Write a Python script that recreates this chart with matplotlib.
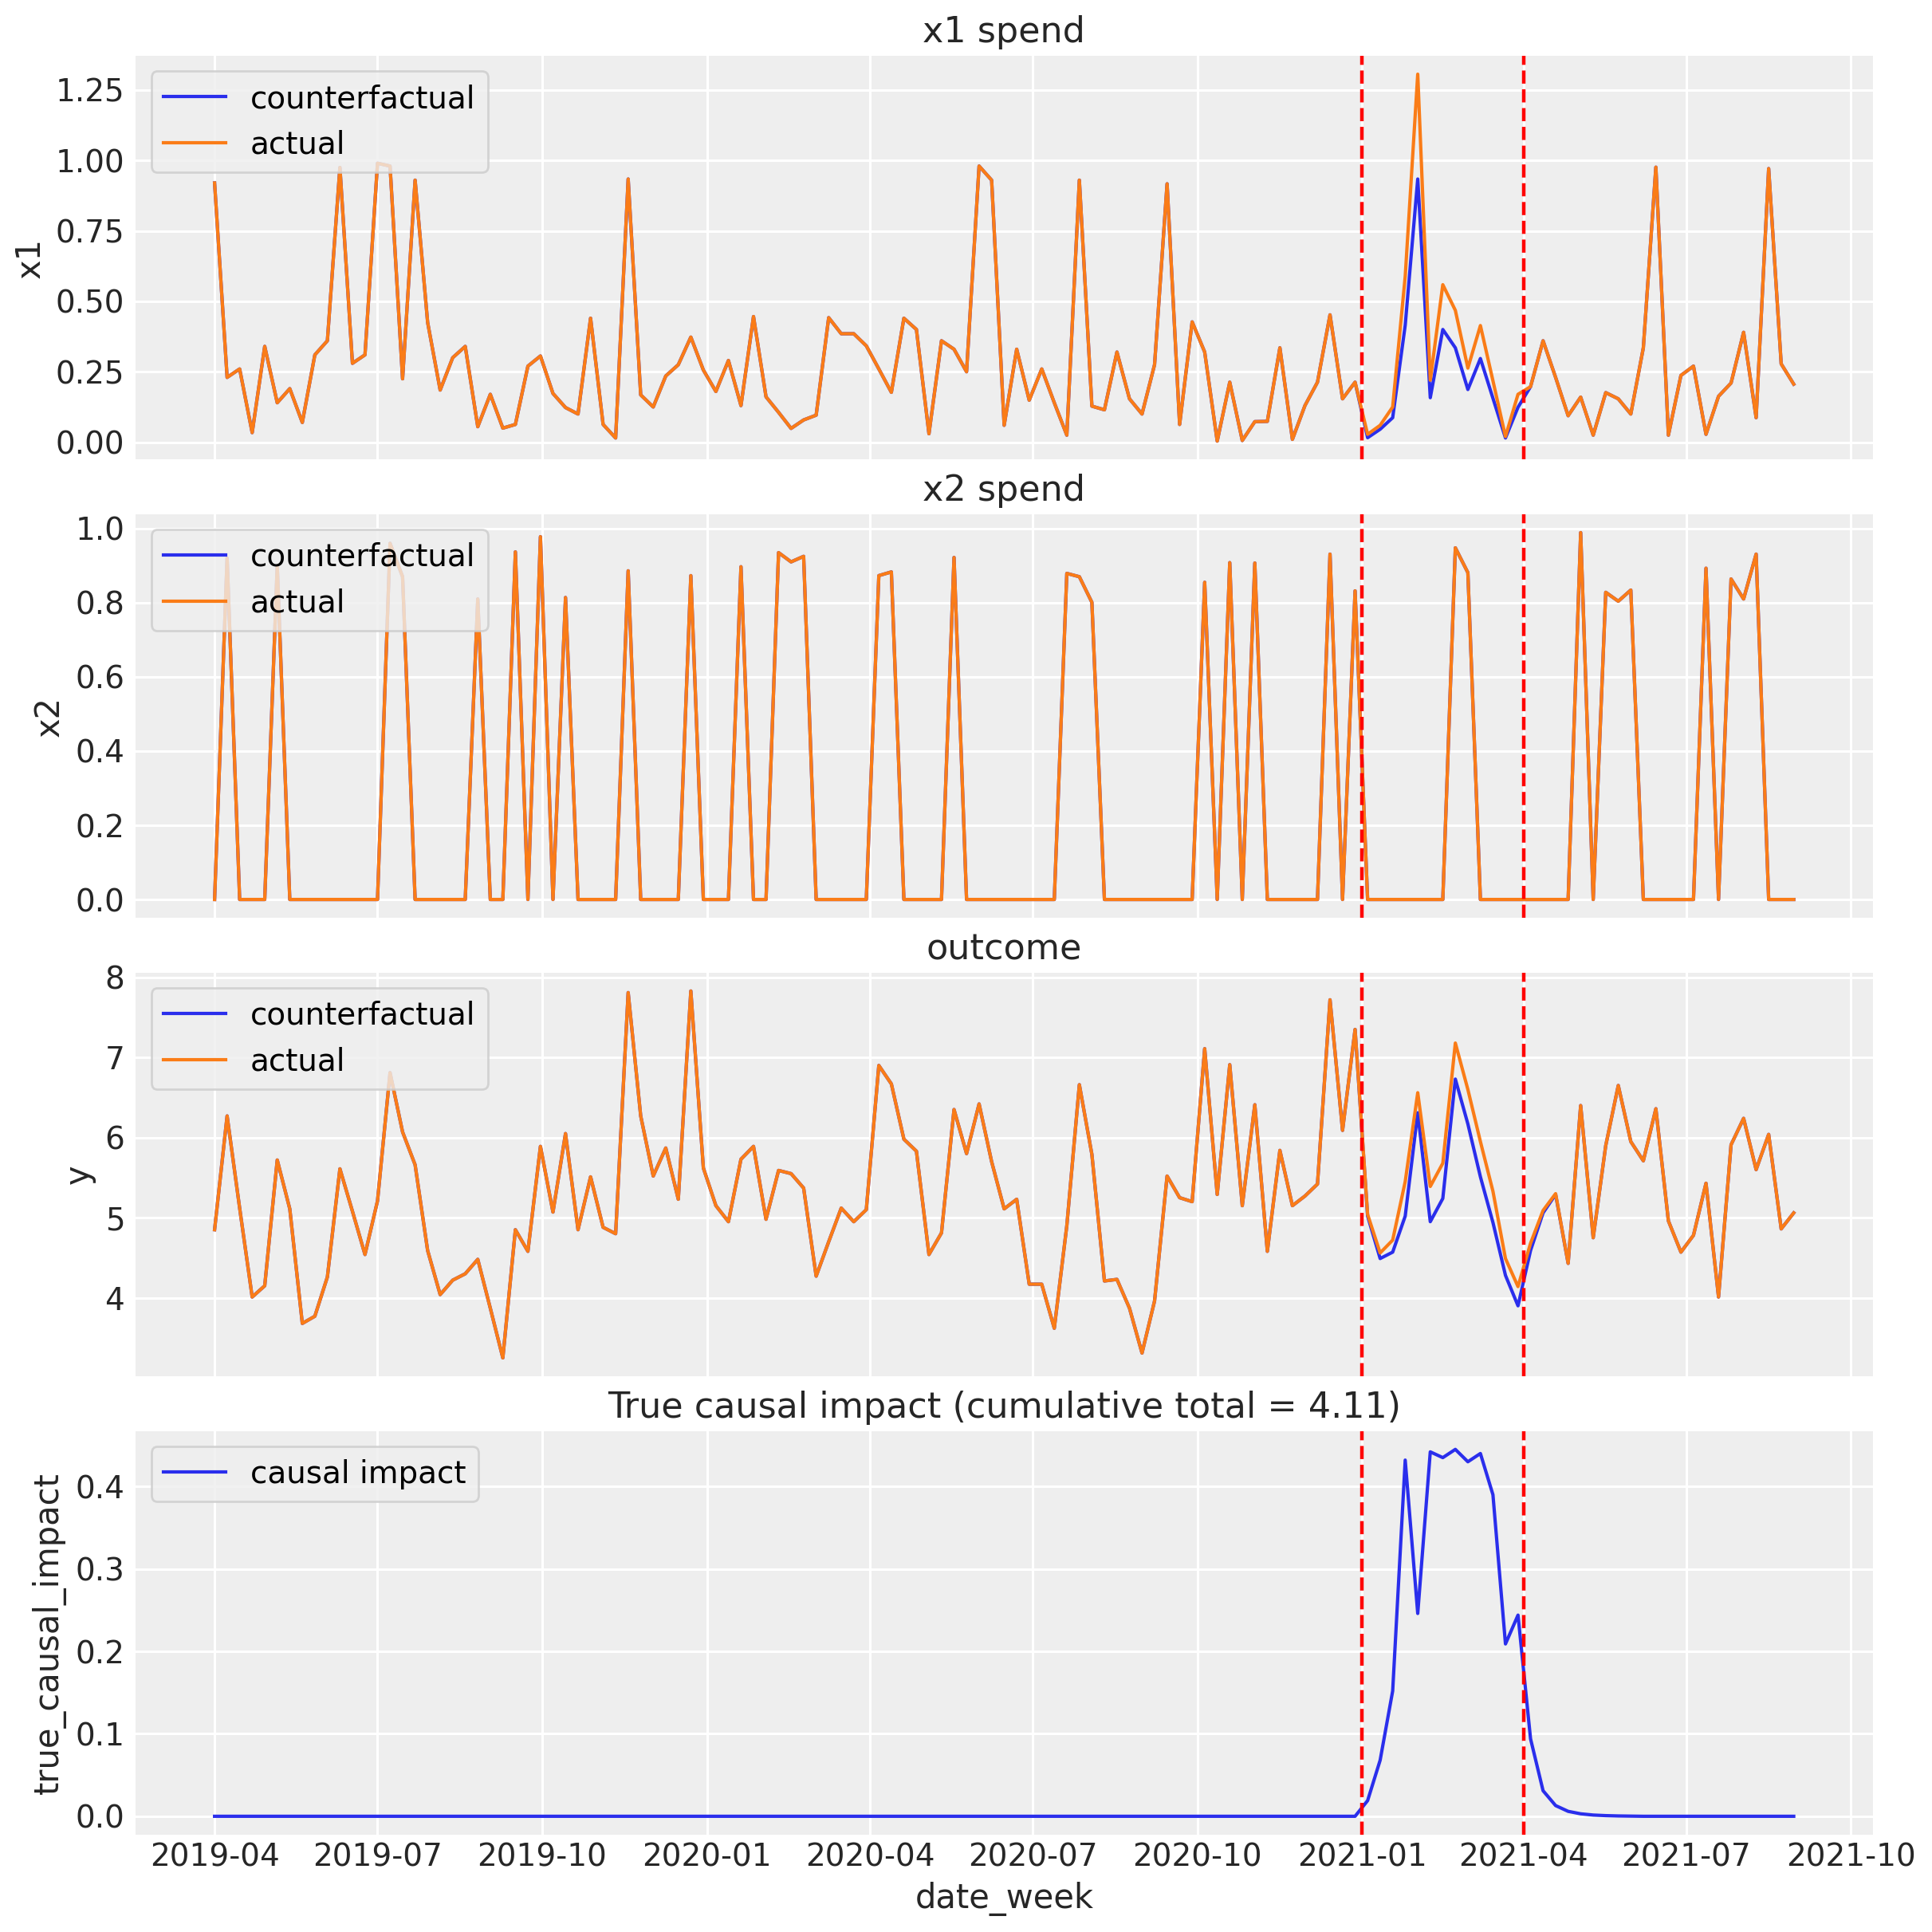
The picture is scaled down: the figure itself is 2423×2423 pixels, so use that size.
import matplotlib
matplotlib.use("Agg")
import matplotlib.pyplot as plt
import matplotlib.dates as mdates
import matplotlib.ticker as mticker
import pandas as pd

# ---------------- data ----------------
start_date = "2019-04-01"
n_weeks = 127
intervention_start = "2021-01-01"
intervention_end = "2021-04-01"

x1_actual = [0.92, 0.23, 0.26, 0.034, 0.34, 0.14, 0.19, 0.07, 0.31, 0.36,
             0.975, 0.28, 0.31, 0.99, 0.98, 0.225, 0.93, 0.425, 0.185, 0.30,
             0.34, 0.055, 0.17, 0.05, 0.063, 0.27, 0.306, 0.173, 0.123, 0.10,
             0.44, 0.063, 0.015, 0.934, 0.168, 0.125, 0.235, 0.275, 0.373, 0.256,
             0.18, 0.29, 0.13, 0.446, 0.161, 0.106, 0.049, 0.079, 0.096, 0.442,
             0.385, 0.385, 0.342, 0.26, 0.177, 0.44, 0.40, 0.03, 0.36, 0.33,
             0.25, 0.98, 0.93, 0.06, 0.33, 0.149, 0.26, 0.14, 0.025, 0.93,
             0.128, 0.115, 0.32, 0.154, 0.10, 0.275, 0.917, 0.063, 0.427, 0.32,
             0.004, 0.213, 0.006, 0.073, 0.074, 0.335, 0.01, 0.13, 0.213, 0.452,
             0.154, 0.213, 0.028, 0.06, 0.125, 0.588, 1.306, 0.22, 0.559, 0.468,
             0.263, 0.414, 0.218, 0.02, 0.17, 0.197, 0.36, 0.23, 0.094, 0.16,
             0.025, 0.176, 0.154, 0.10, 0.335, 0.976, 0.025, 0.237, 0.27, 0.028,
             0.163, 0.21, 0.39, 0.087, 0.971, 0.278, 0.206]
# counterfactual x1 inside the intervention window (weeks 92..104)
x1_cf_window = [0.016, 0.046, 0.087, 0.415, 0.934, 0.158, 0.40, 0.335, 0.187,
                0.297, 0.156, 0.015, 0.124]
x1_counterfactual = x1_actual[:92] + x1_cf_window + x1_actual[105:]

x2_actual = [0, 0.92, 0, 0, 0, 0.90, 0, 0, 0, 0, 0, 0, 0, 0,
             0.96, 0.87, 0, 0, 0, 0, 0, 0.81, 0, 0, 0.937, 0, 0.978, 0, 0.814,
             0, 0, 0, 0, 0.886, 0, 0, 0, 0, 0.873, 0, 0, 0, 0.897,
             0, 0, 0.935, 0.91, 0.925, 0, 0, 0, 0, 0, 0.873, 0.883,
             0, 0, 0, 0, 0.922, 0, 0, 0, 0, 0, 0, 0, 0,
             0.879, 0.870, 0.801, 0, 0, 0, 0, 0, 0, 0, 0,
             0.855, 0, 0.908, 0, 0.907, 0, 0, 0, 0, 0, 0.931, 0, 0.832,
             0, 0, 0, 0, 0, 0, 0, 0.948, 0.881,
             0, 0, 0, 0, 0, 0, 0, 0, 0.989, 0, 0.828, 0.804, 0.834,
             0, 0, 0, 0, 0, 0.893, 0, 0.864, 0.81, 0.931, 0, 0, 0]
x2_counterfactual = list(x2_actual)

y_actual = [4.85, 6.27, 5.12, 4.01, 4.15, 5.72, 5.11, 3.68, 3.77, 4.26,
            5.61, 5.08, 4.54, 5.21, 6.81, 6.07, 5.66, 4.59, 4.04, 4.22,
            4.30, 4.48, 3.87, 3.25, 4.85, 4.58, 5.89, 5.07, 6.05, 4.85,
            5.51, 4.88, 4.80, 7.81, 6.27, 5.52, 5.87, 5.23, 7.83, 5.62,
            5.15, 4.95, 5.73, 5.89, 4.98, 5.59, 5.55, 5.37, 4.27, 4.70,
            5.12, 4.95, 5.10, 6.90, 6.67, 5.98, 5.83, 4.54, 4.81, 6.35,
            5.80, 6.42, 5.70, 5.11, 5.23, 4.17, 4.17, 3.62, 4.90, 6.66,
            5.79, 4.21, 4.23, 3.87, 3.31, 3.96, 5.52, 5.25, 5.20, 7.11,
            5.29, 6.91, 5.15, 6.41, 4.58, 5.84, 5.15, 5.27, 5.42, 7.72,
            6.09, 7.35, 5.04, 4.56, 4.72, 5.45, 6.56, 5.39, 5.68, 7.18,
            6.60, 5.95, 5.33, 4.49, 4.14, 4.68, 5.09, 5.30, 4.43, 6.40,
            4.75, 5.90, 6.65, 5.95, 5.71, 6.36, 4.96, 4.57, 4.78, 5.43,
            4.01, 5.91, 6.24, 5.60, 6.04, 4.86, 5.06]
# counterfactual y for weeks 92..107
y_cf_window = [5.02, 4.49, 4.57, 5.02, 6.31, 4.95, 5.24, 6.73, 6.17, 5.51,
               4.94, 4.28, 3.90, 4.59, 5.06, 5.29]
y_counterfactual = y_actual[:92] + y_cf_window + y_actual[108:]

# true causal impact: zero before week 92, then these values, then zero
impact_window = [0.019, 0.068, 0.152, 0.432, 0.246, 0.442, 0.435, 0.445, 0.43,
                 0.44, 0.39, 0.209, 0.244, 0.094, 0.031, 0.013, 0.006, 0.003,
                 0.0015, 0.0008, 0.0004, 0.0002]
true_causal_impact = [0.0] * 92 + impact_window + [0.0] * 13

title_impact = "True causal impact (cumulative total = 4.11)"

dates = pd.date_range(start_date, periods=n_weeks, freq="W-MON")

# ---------------- style ----------------
BLUE = "#2a2eec"
ORANGE = "#fa7c17"
TXT = "#262626"
plt.rcParams.update({
    "font.family": "DejaVu Sans",
    "axes.facecolor": "#eeeeee",
    "figure.facecolor": "white",
    "axes.edgecolor": "#eeeeee",
    "axes.grid": True,
    "grid.color": "white",
    "grid.linewidth": 1.1,
    "axes.axisbelow": True,
    "xtick.major.size": 0,
    "ytick.major.size": 0,
    "xtick.major.pad": 3.5,
    "ytick.major.pad": 5,
    "xtick.labelsize": 14,
    "ytick.labelsize": 14,
    "xtick.color": TXT,
    "ytick.color": TXT,
    "axes.labelsize": 15,
    "axes.labelcolor": TXT,
    "axes.titlesize": 16,
    "axes.titlecolor": TXT,
    "legend.fontsize": 14,
    "legend.edgecolor": "0.8",
    "legend.framealpha": 0.8,
    "lines.linewidth": 1.5,
})

fig = plt.figure(figsize=(2423 / 200, 2423 / 200), dpi=200)
axes = fig.subplots(4, 1, sharex=True)
fig.subplots_adjust(left=0.0702, right=0.9693, top=0.9711, bottom=0.0504,
                    hspace=0.1358)

for sp_ax in axes:
    for s in sp_ax.spines.values():
        s.set_visible(False)

panels = [
    (axes[0], x1_counterfactual, x1_actual, "x1 spend", "x1", 0.25),
    (axes[1], x2_counterfactual, x2_actual, "x2 spend", "x2", 0.2),
    (axes[2], y_counterfactual, y_actual, "outcome", "y", 1.0),
]
for ax, cf, act, title, ylab, step in panels:
    ax.plot(dates, cf, color=BLUE, lw=1.5, label="counterfactual")
    ax.plot(dates, act, color=ORANGE, lw=1.5, label="actual")
    ax.set_title(title)
    ax.set_ylabel(ylab)
    ax.yaxis.set_major_locator(mticker.MultipleLocator(step))
    ax.legend(loc="upper left")

axes[0].yaxis.set_major_formatter(mticker.FormatStrFormatter("%.2f"))
axes[1].yaxis.set_major_formatter(mticker.FormatStrFormatter("%.1f"))
axes[2].yaxis.set_major_formatter(mticker.FormatStrFormatter("%d"))

ax = axes[3]
ax.plot(dates, true_causal_impact, color=BLUE, lw=1.5, label="causal impact")
ax.set_title(title_impact)
ax.set_ylabel("true_causal_impact")
ax.set_xlabel("date_week")
ax.yaxis.set_major_locator(mticker.MultipleLocator(0.1))
ax.yaxis.set_major_formatter(mticker.FormatStrFormatter("%.1f"))
ax.legend(loc="upper left")

for a in axes:
    a.axvline(pd.Timestamp(intervention_start), color="red", ls="--", lw=1.6)
    a.axvline(pd.Timestamp(intervention_end), color="red", ls="--", lw=1.6)

axes[3].xaxis.set_major_locator(mdates.MonthLocator(bymonth=[1, 4, 7, 10]))
axes[3].xaxis.set_major_formatter(mdates.DateFormatter("%Y-%m"))

fig.savefig("out.png", dpi=200)
